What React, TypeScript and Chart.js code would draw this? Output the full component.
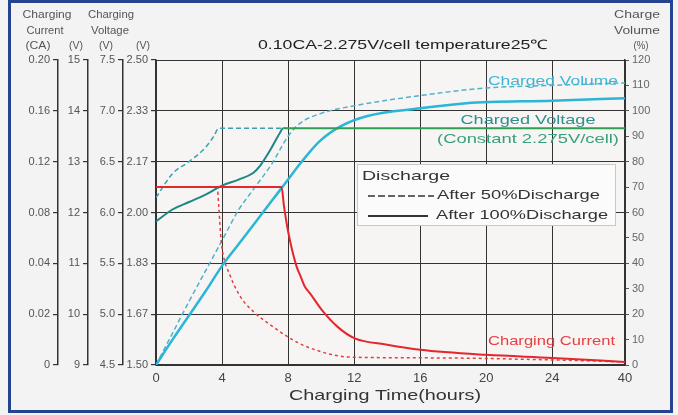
import React, { useEffect, useRef } from 'react';
import { Chart, registerables, LinearScale } from 'chart.js';

Chart.register(...registerables);

// ---------------- data ----------------
const TIME_TICKS = [0, 4, 8, 12, 16, 20, 24, 40];
const TIME_LABELS = ['0', '4', '8', '12', '16', '20', '24', '40'];
const CURRENT_LABELS = ['0', '0.02', '0.04', '0.08', '0.12', '0.16', '0.20'];
const V12_LABELS = ['9', '10', '11', '12', '13', '14', '15'];
const V6_LABELS = ['4.5', '5.0', '5.5', '6.0', '6.5', '7.0', '7.5'];
const VPC_LABELS = ['1.50', '1.67', '1.83', '2.00', '2.17', '2.33', '2.50'];

// [hours, V/cell]
const VOLTAGE_100 = [[0, 1.97], [1, 2.01], [2, 2.035], [3, 2.06], [4, 2.09], [5, 2.11], [5.9, 2.133], [6.3, 2.156], [6.9, 2.205], [7.5, 2.26], [7.7, 2.275], [12, 2.275], [24, 2.275], [40, 2.275]];
const VOLTAGE_50 = [[0, 2.05], [1, 2.13], [2, 2.17], [3, 2.215], [3.5, 2.25], [3.8, 2.275], [8, 2.275]];
// [hours, %]
const VOLUME_100 = [[0, 0], [1, 10], [2, 19.5], [3, 29], [4, 39], [5, 47.5], [6, 56], [7, 64.5], [8, 73], [8.7, 79], [9.9, 88], [11.2, 94], [12.8, 98], [16, 101], [18.8, 103], [24, 104], [40, 105]];
const VOLUME_50 = [[0, 0], [1, 12.5], [2, 25], [3, 37], [4, 49], [5, 61], [6, 70], [7, 79], [8, 90], [8.7, 95], [10, 99], [12, 102], [16, 106], [20, 109], [24, 110], [40, 111]];
// [hours, CA]
const CURRENT_100 = [[0, 0.10], [7.6, 0.10], [7.75, 0.085], [8.0, 0.065], [8.5, 0.039], [8.75, 0.035], [9, 0.031], [9.35, 0.028], [10, 0.022], [11, 0.015], [12, 0.0106], [14, 0.008], [16, 0.006], [20, 0.004], [24, 0.0028], [40, 0.0012]];
const CURRENT_50 = [[0, 0.10], [3.7, 0.10], [3.8, 0.085], [3.9, 0.065], [4.0, 0.052], [4.5, 0.035], [5.1, 0.027], [5.9, 0.021], [7.1, 0.015], [8, 0.011], [9.2, 0.007], [11.8, 0.0031], [16.8, 0.0028], [24, 0.002], [40, 0.0012]];

// ---------------- scale setup ----------------
const EVEN7 = [0, 1, 2, 3, 4, 5, 6];
const PIECES: Record<string, { vals: number[]; pos: number[] }> = {
  x: { vals: TIME_TICKS, pos: [0, 1, 2, 3, 4, 5, 6, 7.1] },
  yCA: { vals: CURRENT_LABELS.map(Number), pos: EVEN7 },
  yV12: { vals: V12_LABELS.map(Number), pos: EVEN7 },
  yV6: { vals: V6_LABELS.map(Number), pos: EVEN7 },
  yVPC: { vals: VPC_LABELS.map(Number), pos: EVEN7 },
};

class PiecewiseScale extends LinearScale {
  static id = 'piecewise';
  getPixelForValue(value: number) {
    if (value === null || value === undefined || isNaN(value)) return NaN;
    const { vals, pos } = PIECES[(this as any).id];
    let i = 0;
    while (i < vals.length - 2 && value > vals[i + 1]) i++;
    const t = (value - vals[i]) / (vals[i + 1] - vals[i]);
    const p = pos[i] + t * (pos[i + 1] - pos[i]);
    return (this as any).getPixelForDecimal(p / pos[pos.length - 1]);
  }
}
Chart.register(PiecewiseScale as any);

const FONT = "'Liberation Sans', Arial, sans-serif";
const TEAL = '#1d8784';
const GREEN = '#2f9f55';
const CYAN = '#2ab6d6';
const RED = '#e5262b';

const pts = (arr: number[][]) => arr.map(([x, y]) => ({ x, y }));

function drawFit(ctx: CanvasRenderingContext2D, text: string, x: number, y: number, width: number, size: number, color: string, align: CanvasTextAlign = 'left') {
  ctx.save();
  ctx.font = `${size}px ${FONT}`;
  ctx.fillStyle = color;
  ctx.textBaseline = 'middle';
  ctx.textAlign = align;
  const w = ctx.measureText(text).width;
  ctx.translate(x, y);
  ctx.scale(width / w, 1);
  ctx.fillText(text, 0, 0);
  ctx.restore();
}

const decor = {
  id: 'decor',
  beforeDraw(chart: any) {
    const { ctx, chartArea: a } = chart;
    ctx.save();
    ctx.fillStyle = '#f3f3f3';
    ctx.fillRect(0, 0, chart.width, chart.height);
    ctx.fillStyle = '#f7f4f4';
    ctx.fillRect(a.left, a.top, a.right - a.left, a.bottom - a.top);
    ctx.restore();
  },
  afterDraw(chart: any) {
    const { ctx } = chart;
    const hdr = '#555';
    // left headers
    drawFit(ctx, 'Charging', 47, 15, 49, 10, hdr, 'center');
    drawFit(ctx, 'Current', 45, 31, 37, 10, hdr, 'center');
    drawFit(ctx, '(CA)', 38, 46, 25, 10, hdr, 'center');
    drawFit(ctx, 'Charging', 111, 15, 46, 10, hdr, 'center');
    drawFit(ctx, 'Voltage', 110, 31, 38, 10, hdr, 'center');
    drawFit(ctx, '(V)', 76, 46, 14, 10, hdr, 'center');
    drawFit(ctx, '(V)', 106, 46, 14, 10, hdr, 'center');
    drawFit(ctx, '(V)', 143, 46, 14, 10, hdr, 'center');
    // right headers
    drawFit(ctx, 'Charge', 637, 15, 46, 10, hdr, 'center');
    drawFit(ctx, 'Volume', 637, 31, 46, 10, hdr, 'center');
    drawFit(ctx, '(%)', 641, 46, 15, 10, hdr, 'center');
    // title
    drawFit(ctx, '0.10CA-2.275V/cell temperature25\u2103', 403, 45, 290, 13, '#222', 'center');
    // x title
    drawFit(ctx, 'Charging Time(hours)', 385, 396, 192, 15, '#333', 'center');
    // in-chart labels
    drawFit(ctx, 'Charged Volume', 488, 81, 130, 13, '#3bb6d8', 'left');
    drawFit(ctx, 'Charged Voltage', 528, 120, 135, 13, '#2f8f8c', 'center');
    drawFit(ctx, '(Constant 2.275V/cell)', 528, 139, 182, 13, '#38a07a', 'center');
    drawFit(ctx, 'Charging Current', 488, 341, 127, 13, '#e8403f', 'left');
    // legend box
    ctx.save();
    ctx.fillStyle = '#fbfbfb';
    ctx.fillRect(357, 164, 258, 61);
    ctx.strokeStyle = '#c8c8c8';
    ctx.lineWidth = 1;
    ctx.strokeRect(357.5, 164.5, 258, 61);
    ctx.strokeStyle = '#333';
    ctx.lineWidth = 1.5;
    ctx.setLineDash([7, 3]);
    ctx.beginPath(); ctx.moveTo(368, 196); ctx.lineTo(434, 196); ctx.stroke();
    ctx.setLineDash([]);
    ctx.lineWidth = 2;
    ctx.beginPath(); ctx.moveTo(368, 216); ctx.lineTo(428, 216); ctx.stroke();
    ctx.restore();
    drawFit(ctx, 'Discharge', 362, 176, 88, 13, '#333', 'left');
    drawFit(ctx, 'After 50%Discharge', 437, 195, 163, 13, '#333', 'left');
    drawFit(ctx, 'After 100%Discharge', 436, 215, 172, 13, '#333', 'left');
    // frame
    ctx.save();
    ctx.strokeStyle = '#24448f';
    ctx.lineWidth = 3;
    ctx.strokeRect(9.5, 1.5, 662, 410);
    ctx.restore();
  },
};

const leftAxis = (id: string, labels: string[], weight: number, width: number) => ({
  type: 'piecewise',
  position: 'left',
  weight,
  min: Number(labels[0]),
  max: Number(labels[labels.length - 1]),
  afterBuildTicks: (s: any) => { s.ticks = labels.map((l) => ({ value: Number(l) })); },
  afterFit: (s: any) => { s.width = width; },
  ticks: {
    autoSkip: false,
    padding: 3,
    color: '#555',
    font: { family: FONT, size: 11 },
    callback: (_v: any, i: number) => labels[i],
  },
  grid: { drawOnChartArea: false, drawTicks: true, tickLength: 5, color: '#333', lineWidth: 1.2 },
  border: { display: true, color: '#333', width: 1.5 },
});

export default function App() {
  const ref = useRef<HTMLCanvasElement>(null);
  useEffect(() => {
    const line = (data: number[][], yAxisID: string, color: string, width: number, dash: number[] = [], extra: any = {}) => ({
      data: pts(data),
      yAxisID,
      xAxisID: 'x',
      borderColor: color,
      borderWidth: width,
      borderDash: dash,
      pointRadius: 0,
      fill: false,
      cubicInterpolationMode: 'monotone',
      ...extra,
    });
    const chart = new Chart(ref.current as HTMLCanvasElement, {
      type: 'line',
      data: {
        datasets: [
          line(CURRENT_100, 'yCA', RED, 2),
          line(VOLTAGE_100, 'yVPC', TEAL, 2, [], {
            segment: { borderColor: (c: any) => (c.p0.parsed.x >= 7.69 ? GREEN : undefined) },
          }),
          line(VOLUME_100, 'y', CYAN, 2.5),
          line(CURRENT_50, 'yCA', '#e2403f', 1.5, [3, 3]),
          line(VOLTAGE_50, 'yVPC', '#3ea2ae', 1.5, [5, 3]),
          line(VOLUME_50, 'y', '#4fb3c8', 1.5, [5, 3]),
        ] as any,
      },
      options: {
        animation: false,
        responsive: false,
        events: [],
        layout: { padding: { left: 20, right: 10, top: 60, bottom: 8 } },
        plugins: { legend: { display: false }, tooltip: { enabled: false }, title: { display: false } },
        scales: {
          x: {
            type: 'piecewise',
            min: 0,
            max: 40,
            afterBuildTicks: (s: any) => { s.ticks = TIME_TICKS.map((v) => ({ value: v })); },
            afterFit: (s: any) => { s.height = 42; },
            ticks: {
              autoSkip: false,
              maxRotation: 0,
              padding: 6,
              color: '#444',
              font: { family: FONT, size: 13 },
              callback: (_v: any, i: number) => TIME_LABELS[i],
            },
            grid: { color: '#333', lineWidth: 1, drawTicks: false },
            border: { display: true, color: '#333', width: 1.5 },
          },
          y: {
            type: 'linear',
            position: 'right',
            min: 0,
            max: 120,
            afterFit: (s: any) => { s.width = 43; },
            ticks: { stepSize: 10, autoSkip: false, padding: 3, color: '#666', font: { family: FONT, size: 11 } },
            grid: {
              color: (c: any) => (c.tick && c.tick.value % 20 === 0 ? '#333' : 'rgba(0,0,0,0)'),
              tickColor: '#555',
              tickLength: 4,
              lineWidth: 1,
            },
            border: { display: true, color: '#333', width: 1.5 },
          },
          yVPC: leftAxis('yVPC', VPC_LABELS, 0, 33),
          yV6: leftAxis('yV6', V6_LABELS, 1, 35),
          yV12: leftAxis('yV12', V12_LABELS, 2, 30),
          yCA: leftAxis('yCA', CURRENT_LABELS, 3, 38),
        } as any,
      },
      plugins: [decor],
    } as any);
    return () => chart.destroy();
  }, []);
  return (
    <div style={{ position: 'fixed', left: 0, top: 0, width: 678, height: 415 }}>
      <canvas ref={ref} width={678} height={415} style={{ width: 678, height: 415, display: 'block' }} />
    </div>
  );
}
